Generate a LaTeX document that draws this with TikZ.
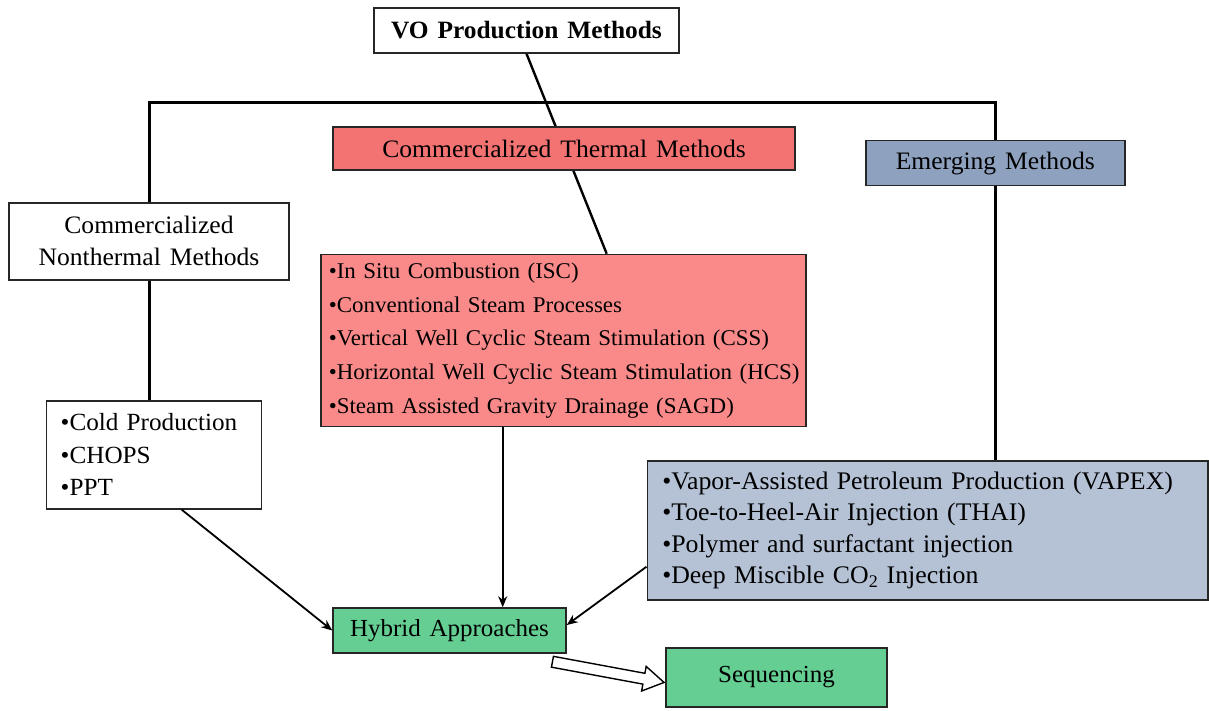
\documentclass[tikz,border=0pt]{standalone}
\usepackage{fontspec}
\setmainfont{Liberation Serif}[FakeStretch=1.02, WordSpace=1.4]
\usetikzlibrary{calc,backgrounds,arrows.meta}
\definecolor{thermhead}{RGB}{243,114,114}
\definecolor{thermlist}{RGB}{250,138,138}
\definecolor{emerghead}{RGB}{142,161,190}
\definecolor{emerglist}{RGB}{181,194,214}
\definecolor{hybridgreen}{RGB}{100,206,147}
\begin{document}
\begin{tikzpicture}[x=1pt,y=-1pt,
  box/.style={draw=black!85, line width=1.5pt, rectangle, inner sep=0pt,
    font=\fontsize{25.1}{32}\selectfont, align=center},
  listbox/.style={box, align=left},
  conn/.style={line width=3pt, black},
  arr/.style={line width=1.8pt, black, -{Stealth[length=11pt,width=9pt]}},
  hollow/.style={draw=black, line width=1.4pt, fill=white, line join=miter}
]
\useasboundingbox (0,0) rectangle (1209,710);

% nodes
\node[box, minimum width=305pt, minimum height=45pt, font=\fontsize{24.9}{30}\selectfont\bfseries]
  (vo) at (526.5,30.5) {VO Production Methods};
\node[box, fill=thermhead, minimum width=462pt, minimum height=43pt]
  (thermal) at (564,148.5) {Commercialized Thermal Methods};
\node[box, fill=emerghead, minimum width=259pt, minimum height=45pt]
  (emerging) at (995.3,163.2) {Emerging Methods};
\node[box, minimum width=280pt, minimum height=77pt]
  (nonthermal) at (149,241.3) {Commercialized\\Nonthermal Methods};
\node[listbox, fill=thermlist, minimum height=172pt, inner xsep=8pt, text width=469pt,
    font=\fontsize{22.5}{33.8}\selectfont]
  (redlist) at (563.3,340.5) {\mbox{\textbullet In Situ Combustion (ISC)}\\
    \mbox{\textbullet Conventional Steam Processes}\\
    \mbox{\textbullet Vertical Well Cyclic Steam Stimulation (CSS)}\\
    \mbox{\textbullet Horizontal Well Cyclic Steam Stimulation (HCS)}\\
    \mbox{\textbullet Steam Assisted Gravity Drainage (SAGD)}};
\node[listbox, minimum height=108pt, inner xsep=14pt, text width=187pt,
    font=\fontsize{24.7}{32.5}\selectfont]
  (cold) at (154.2,454.9) {\textbullet Cold Production\\ \textbullet CHOPS\\ \textbullet PPT};
\node[listbox, fill=emerglist, minimum height=139pt, inner xsep=15pt, text width=530.7pt,
    font=\fontsize{25.3}{31.5}\selectfont]
  (blue) at (927.6,530.3) {\mbox{\textbullet Vapor-Assisted Petroleum Production (VAPEX)}\\
    \textbullet Toe-to-Heel-Air Injection (THAI)\\
    \textbullet Polymer and surfactant injection\\
    \textbullet Deep Miscible CO\textsubscript{2} Injection};
\node[box, fill=hybridgreen, minimum width=233pt, minimum height=45pt, font=\fontsize{24.5}{30}\selectfont]
  (hybrid) at (449.5,630.5) {Hybrid Approaches};
\node[box, fill=hybridgreen, minimum width=221pt, minimum height=59pt, font=\fontsize{24.5}{30}\selectfont]
  (seq) at (776.5,677.5) {Sequencing};

% connectors
\coordinate (bar) at (0,102);
\begin{scope}[on background layer]
  \draw[line width=2.4pt] (vo.south) -- ([xshift=43.4pt]redlist.north);
\end{scope}
\draw[conn] (nonthermal.north) -- (nonthermal.north |- bar)
   -- (emerging.north |- bar) -- (emerging.north);
\draw[conn] (nonthermal.south) -- (nonthermal.south |- cold.north);
\draw[conn] (emerging.south) -- (emerging.south |- blue.north);

\draw[arr] ([xshift=-60.6pt]redlist.south) -- ([xshift=-60.6pt]redlist.south |- hybrid.north);
\draw[arr] ([xshift=27.5pt]cold.south) -- (hybrid.west);
\draw[arr] ([yshift=-36.4pt]blue.west) -- ([yshift=5.5pt]hybrid.east);

% hollow block arrow
\coordinate (htail) at ([xshift=-14.3pt,yshift=-8pt]hybrid.south east);
\begin{scope}[shift={(htail)}, rotate=-10.5]
  \draw[hollow] (0,-5.5) -- (93,-5.5) -- (93,-12.5) -- (113.5,0)
     -- (93,12.5) -- (93,5.5) -- (0,5.5) -- cycle;
\end{scope}
\end{tikzpicture}
\end{document}
